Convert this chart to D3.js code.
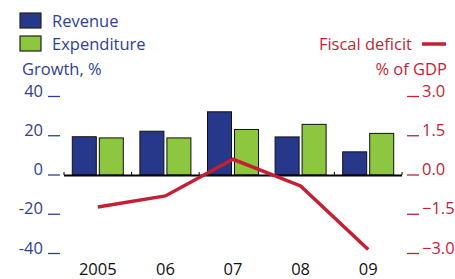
<!DOCTYPE html>
<html>
<head>
<meta charset="utf-8">
<script src="https://cdn.jsdelivr.net/npm/d3@7"></script>
<style>
  body { margin: 0; background: #fff; }
  svg { display: block; font-family: "Open Sans", sans-serif; }
</style>
</head>
<body>
<script>
// data
var years = ["2005", "06", "07", "08", "09"];
var revenue = [19.5, 22.3, 32.2, 19.4, 11.8];      // growth, %
var expenditure = [18.9, 18.9, 23.2, 25.8, 21.2];  // growth, %
var deficit = [-1.22, -0.8, 0.6, -0.42, -2.85];    // % of GDP
var leftTicks = [-40, -20, 0, 20, 40];
var rightTicks = [-3.0, -1.5, 0.0, 1.5, 3.0];

var w = 455, h = 279;
var blue = "#27378a", green = "#8dc63f", red = "#c41f35";
var textBlue = "#2e3f93";
var fs = "16.5px";

var svg = d3.select("body").append("svg")
  .attr("width", w)
  .attr("height", h);

// scales
var x = d3.scaleBand().domain(years).range([64, 402]).padding(0);
var xs = d3.scaleBand().domain(["rev", "exp"]).range([0, x.bandwidth()])
  .paddingInner(0.111).paddingOuter(0.307);
var yL = d3.scaleLinear().domain([-40, 40]).range([253.5, 96.5]);
var yR = d3.scaleLinear().domain([-3, 3]).range([253.5, 96.5]);

// bars
var rows = years.map(function(d, i){
  return {year: d, rev: revenue[i], exp: expenditure[i]};
});
var g = svg.selectAll(".yr").data(rows).enter().append("g")
  .attr("transform", function(d){ return "translate(" + x(d.year) + ",0)"; });
g.selectAll("rect")
  .data(function(d){ return [{k: "rev", v: d.rev}, {k: "exp", v: d.exp}]; })
  .enter().append("rect")
  .attr("x", function(d){ return xs(d.k); })
  .attr("width", xs.bandwidth())
  .attr("y", function(d){ return yL(Math.max(0, d.v)); })
  .attr("height", function(d){ return Math.abs(yL(d.v) - yL(0)); })
  .attr("fill", function(d){ return d.k == "rev" ? blue : green; })
  .attr("stroke", "#111")
  .attr("stroke-width", 1);

// zero axis with small upward ticks at category edges
svg.append("line")
  .attr("x1", 64).attr("x2", 402)
  .attr("y1", yL(0) + 0.5).attr("y2", yL(0) + 0.5)
  .attr("stroke", "#000").attr("stroke-width", 2);
var edges = years.map(function(d){ return x(d); }).concat([x.range()[1]]);
svg.selectAll(".edge").data(edges).enter().append("line")
  .attr("x1", function(d){ return d; }).attr("x2", function(d){ return d; })
  .attr("y1", yL(0) - 3).attr("y2", yL(0))
  .attr("stroke", "#000").attr("stroke-width", 1);

// deficit line
var line = d3.line()
  .x(function(d, i){ return x(years[i]) + x.bandwidth() / 2; })
  .y(function(d){ return yR(d); });
svg.append("path")
  .datum(deficit)
  .attr("d", line)
  .attr("fill", "none")
  .attr("stroke", red)
  .attr("stroke-width", 3.5);

// left axis ticks
svg.selectAll(".lt").data(leftTicks).enter().append("line")
  .attr("x1", 48).attr("x2", 60)
  .attr("y1", function(d){ return yL(d); }).attr("y2", function(d){ return yL(d); })
  .attr("stroke", textBlue).attr("stroke-width", 1.3);
svg.selectAll(".ll").data(leftTicks).enter().append("text")
  .attr("x", 43).attr("y", function(d){ return yL(d); })
  .attr("text-anchor", "end")
  .attr("fill", textBlue)
  .style("font-size", fs)
  .text(function(d){ return d; });

// right axis ticks
svg.selectAll(".rt").data(rightTicks).enter().append("line")
  .attr("x1", 407).attr("x2", 419)
  .attr("y1", function(d){ return yR(d); }).attr("y2", function(d){ return yR(d); })
  .attr("stroke", red).attr("stroke-width", 1.3);
svg.selectAll(".rl").data(rightTicks).enter().append("text")
  .attr("x", 422).attr("y", function(d){ return yR(d); })
  .attr("fill", red)
  .style("font-size", fs)
  .text(function(d){ return d3.format(".1f")(d); });

// x labels
svg.selectAll(".xl").data(years).enter().append("text")
  .attr("x", function(d){ return x(d) + x.bandwidth() / 2; })
  .attr("y", 274.5)
  .attr("text-anchor", "middle")
  .attr("fill", "#111")
  .style("font-size", fs)
  .text(function(d){ return d; });

// legend
var leg = [{name: "Revenue", c: blue, y: 13}, {name: "Expenditure", c: green, y: 36}];
svg.selectAll(".lb").data(leg).enter().append("rect")
  .attr("x", 20).attr("y", function(d){ return d.y; })
  .attr("width", 21).attr("height", 15)
  .attr("fill", function(d){ return d.c; })
  .attr("stroke", "#222").attr("stroke-width", 1.2);
svg.selectAll(".lx").data(leg).enter().append("text")
  .attr("x", 52).attr("y", function(d){ return d.y + 14; })
  .attr("fill", textBlue)
  .style("font-size", fs)
  .text(function(d){ return d.name; });

svg.append("text").attr("x", 22).attr("y", 75)
  .attr("fill", textBlue).style("font-size", fs)
  .text("Growth, %");

svg.append("text").attr("x", 412).attr("y", 50)
  .attr("text-anchor", "end")
  .attr("fill", red).style("font-size", fs)
  .text("Fiscal deficit");
svg.append("line")
  .attr("x1", 422).attr("x2", 446).attr("y1", 44).attr("y2", 44)
  .attr("stroke", red).attr("stroke-width", 3.5);
svg.append("text").attr("x", 447).attr("y", 74.5)
  .attr("text-anchor", "end")
  .attr("fill", red).style("font-size", fs)
  .text("% of GDP");
</script>
</body>
</html>
